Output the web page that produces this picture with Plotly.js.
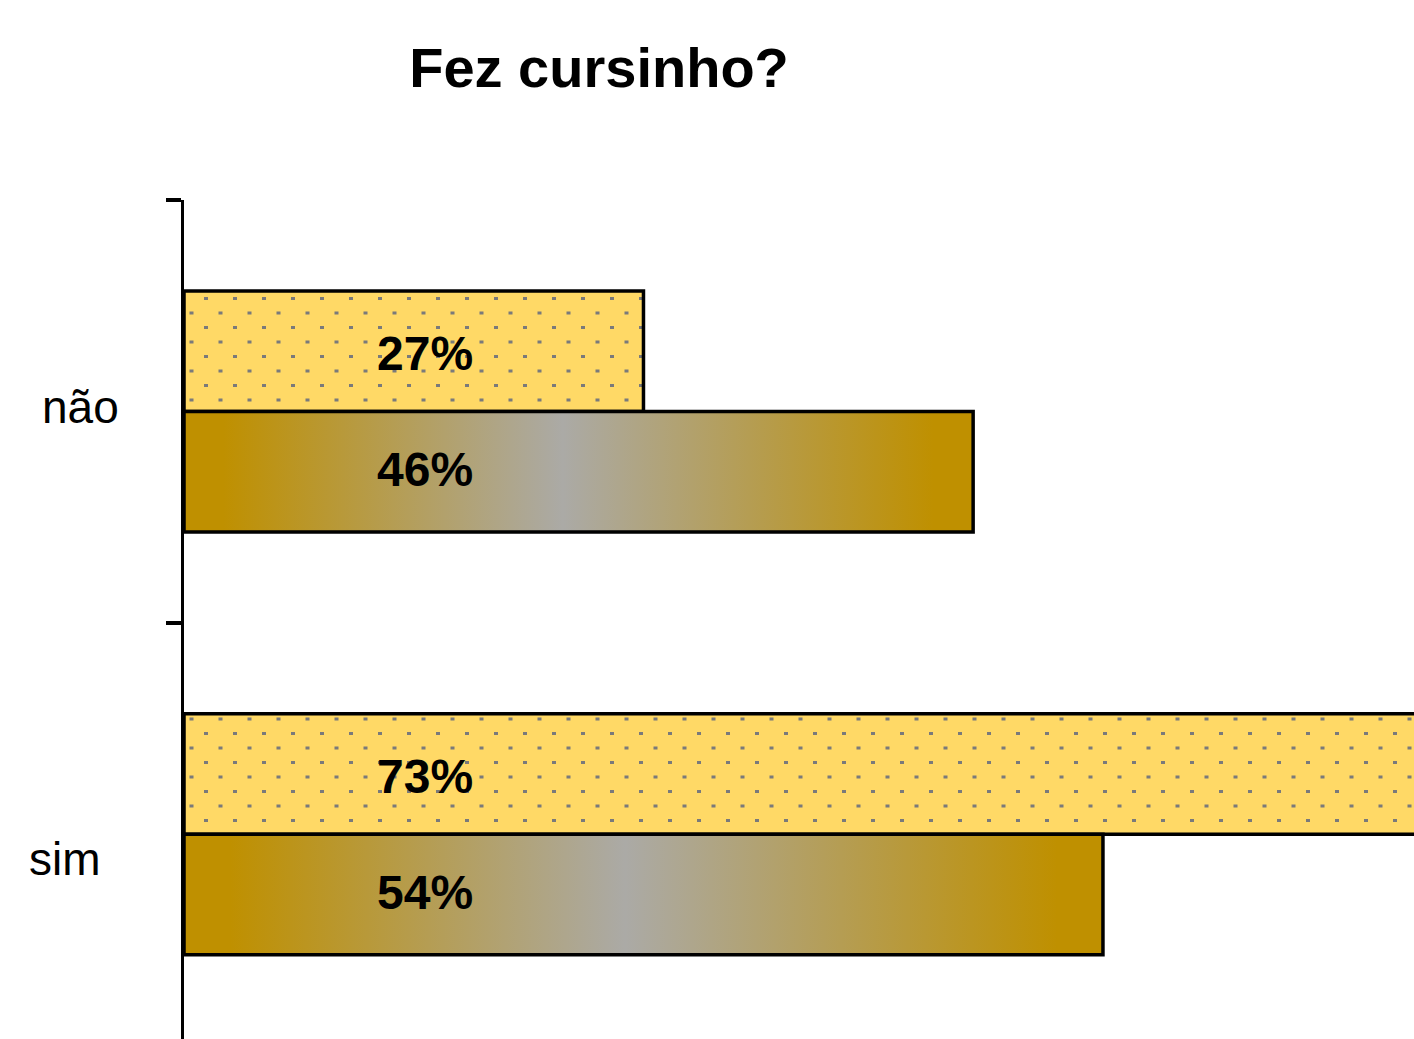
<!DOCTYPE html>
<html>
<head>
<meta charset="utf-8">
<script src="https://cdn.plot.ly/plotly-3.0.1.min.js"></script>
<style>
html, body { margin: 0; padding: 0; overflow: hidden; background: #ffffff; }
#chart { width: 1414px; height: 1039px; }
</style>
</head>
<body>
<div id="chart"></div>
<script>
// ---- data ----
const chartTitle = 'Fez cursinho?';
const categories = ['não', 'sim'];
const seriesDotted = [26.9, 73.1];   // yellow dotted bars
const seriesGradient = [46.2, 53.8]; // gold-gray gradient bars
const labelsDotted = seriesDotted.map(v => Math.round(v) + '%');
const labelsGradient = seriesGradient.map(v => Math.round(v) + '%');

// ---- layout constants ----
const W = 1414, H = 1039;
const M = { l: 184, r: 0, t: 200, b: 0 };
const xMax = 72.01;
const yRange = [1.484, -0.5];
const bargap = 0.43;
const FONT = 'Liberation Sans, Arial, Helvetica, sans-serif';
const categoryLabelPx = [80, 65];    // label centre x (px)
const categoryLabelDy = [4, -25];    // label vertical shift (px)
const valueLabelPx = 425;            // value label centre x (px)

const plotW = W - M.l - M.r;
const plotH = H - M.t - M.b;
const pxPerCat = plotH / (yRange[0] - yRange[1]);
const barOffsetPx = pxPerCat * (1 - bargap) / 4;

const traces = [
  {
    type: 'bar', orientation: 'h',
    y: categories, x: seriesDotted,
    marker: { color: '#FFD966', line: { color: '#000000', width: 3.5 } },
    hoverinfo: 'skip', showlegend: false
  },
  {
    type: 'bar', orientation: 'h',
    y: categories, x: seriesGradient,
    marker: { color: '#BF9000', line: { color: '#000000', width: 3.5 } },
    hoverinfo: 'skip', showlegend: false
  }
];

const annotations = [];
categories.forEach((c, i) => {
  annotations.push({
    xref: 'paper', yref: 'y', x: (categoryLabelPx[i] - M.l) / plotW, y: c,
    xanchor: 'center', yanchor: 'middle', yshift: categoryLabelDy[i],
    text: c, showarrow: false,
    font: { family: FONT, size: 46, color: '#000000' }
  });
  annotations.push({
    xref: 'paper', yref: 'y', x: (valueLabelPx - M.l) / plotW, y: c,
    xanchor: 'center', yanchor: 'middle', yshift: barOffsetPx - 2,
    text: labelsDotted[i], showarrow: false,
    font: { family: FONT, size: 48, color: '#000000', weight: 'bold' }
  });
  annotations.push({
    xref: 'paper', yref: 'y', x: (valueLabelPx - M.l) / plotW, y: c,
    xanchor: 'center', yanchor: 'middle', yshift: -barOffsetPx + 2,
    text: labelsGradient[i], showarrow: false,
    font: { family: FONT, size: 48, color: '#000000', weight: 'bold' }
  });
});

const layout = {
  width: W, height: H, autosize: false,
  margin: M,
  paper_bgcolor: '#ffffff', plot_bgcolor: '#ffffff',
  barmode: 'group', bargap: bargap, bargroupgap: 0,
  title: {
    text: chartTitle,
    xref: 'container', yref: 'container',
    x: 599 / W, xanchor: 'center',
    y: 1 - 67 / H, yanchor: 'middle',
    font: { family: FONT, size: 56, color: '#000000', weight: 'bold' }
  },
  xaxis: {
    range: [0, xMax], visible: false, showgrid: false, zeroline: false, fixedrange: true
  },
  yaxis: {
    type: 'category', range: yRange, automargin: false,
    showline: true, linecolor: '#000000', linewidth: 3.5,
    ticks: 'outside', tickson: 'boundaries', ticklen: 15, tickwidth: 3.5, tickcolor: '#000000',
    showticklabels: false, showgrid: false, zeroline: false, fixedrange: true
  },
  annotations: annotations
};

function decorate() {
  const gd = document.getElementById('chart');
  const svg = gd.querySelector('svg.main-svg');
  if (!svg) return;
  const NS = 'http://www.w3.org/2000/svg';
  let defs = svg.querySelector('defs');
  if (!defs) { defs = document.createElementNS(NS, 'defs'); svg.insertBefore(defs, svg.firstChild); }
  if (!document.getElementById('goldGrad')) {
    const lg = document.createElementNS(NS, 'linearGradient');
    lg.setAttribute('id', 'goldGrad');
    lg.setAttribute('x1', '0'); lg.setAttribute('x2', '1');
    lg.setAttribute('y1', '0'); lg.setAttribute('y2', '0');
    [[0, '#BF9000'], [0.05, '#BF9000'], [0.48, '#ABAAA6'], [0.95, '#BF9000'], [1, '#BF9000']].forEach(([o, c]) => {
      const s = document.createElementNS(NS, 'stop');
      s.setAttribute('offset', o); s.setAttribute('stop-color', c);
      lg.appendChild(s);
    });
    defs.appendChild(lg);

    const pat = document.createElementNS(NS, 'pattern');
    pat.setAttribute('id', 'dotPat');
    pat.setAttribute('patternUnits', 'userSpaceOnUse');
    pat.setAttribute('width', '29'); pat.setAttribute('height', '29');
    const bg = document.createElementNS(NS, 'rect');
    bg.setAttribute('x', '0'); bg.setAttribute('y', '0');
    bg.setAttribute('width', '29'); bg.setAttribute('height', '29');
    bg.setAttribute('fill', '#FFD966');
    pat.appendChild(bg);
    [[20, 10], [5.5, 24.5]].forEach(([x, y]) => {
      const r = document.createElementNS(NS, 'rect');
      r.setAttribute('x', x); r.setAttribute('y', y);
      r.setAttribute('width', '4'); r.setAttribute('height', '3');
      r.setAttribute('fill', '#7A7A7A');
      pat.appendChild(r);
    });
    defs.appendChild(pat);
  }
  const tr = gd.querySelectorAll('.barlayer .trace');
  if (tr[0]) tr[0].querySelectorAll('.point path').forEach(p => { p.style.fill = 'url(#dotPat)'; });
  if (tr[1]) tr[1].querySelectorAll('.point path').forEach(p => { p.style.fill = 'url(#goldGrad)'; });
}

Plotly.newPlot('chart', traces, layout, { displayModeBar: false, staticPlot: true }).then(decorate);
</script>
</body>
</html>
